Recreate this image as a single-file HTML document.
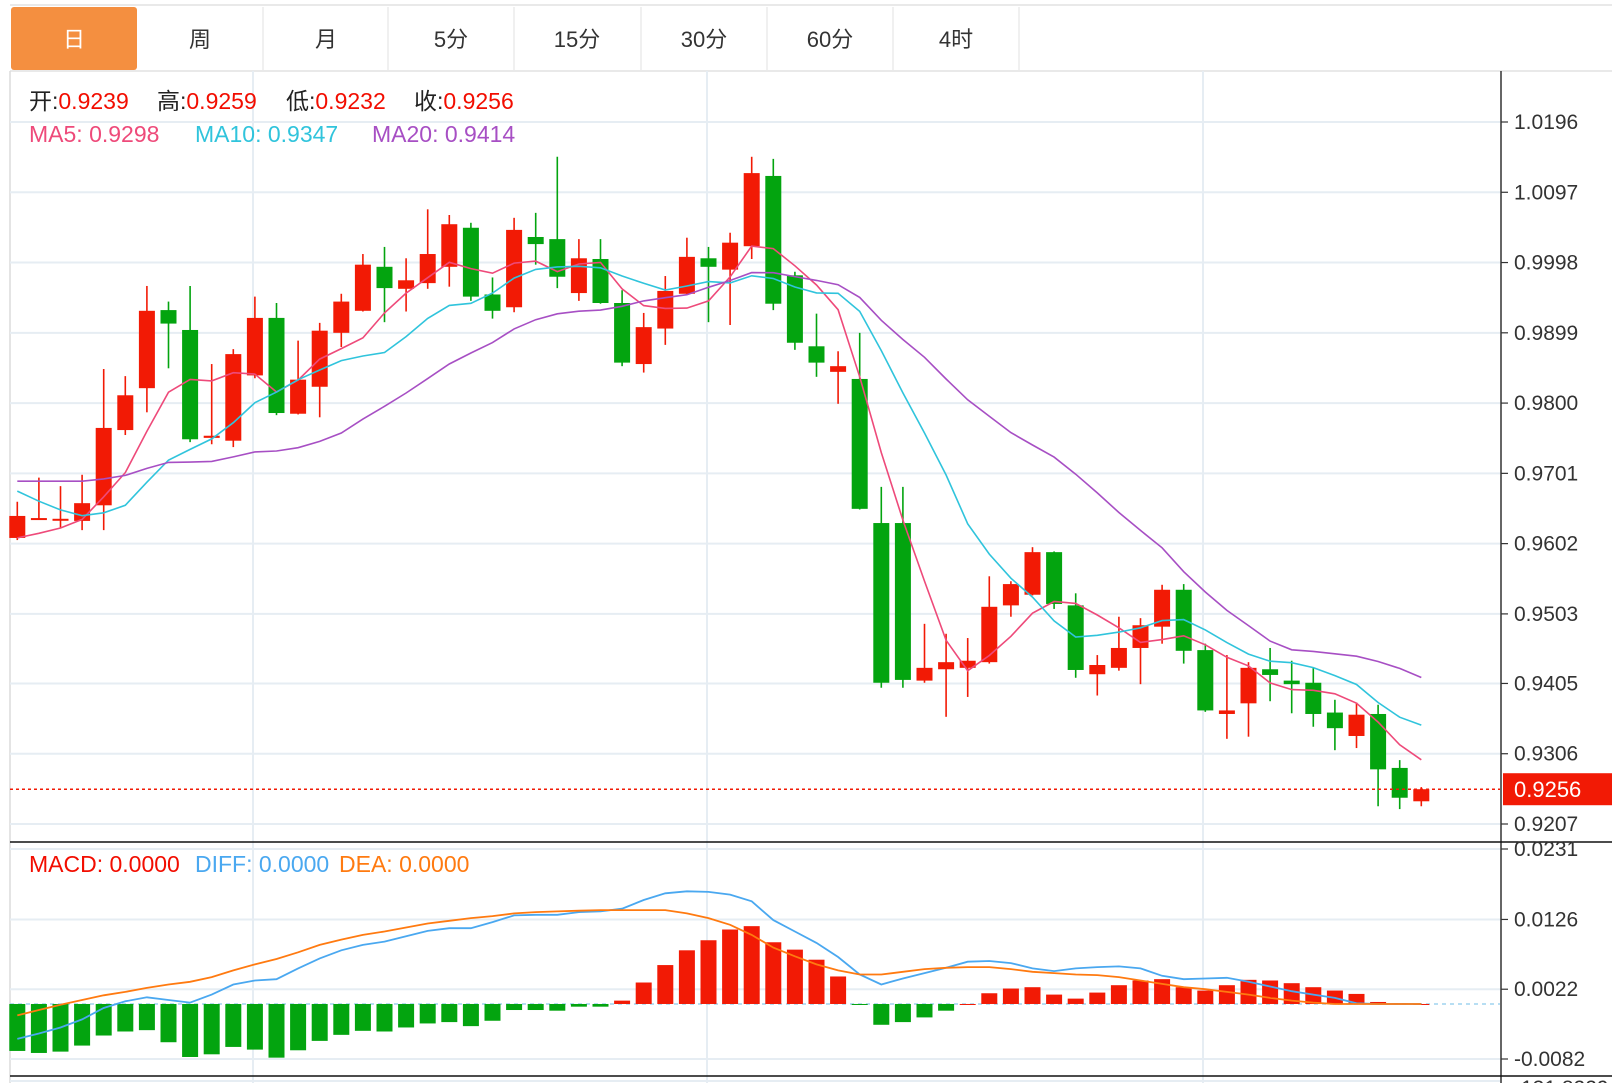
<!DOCTYPE html>
<html><head><meta charset="utf-8"><style>
html,body{margin:0;padding:0;background:#fff;}
svg{display:block;font-family:"Liberation Sans","Noto Sans CJK SC",sans-serif;}
</style></head><body>
<svg id="chart" width="1612" height="1083" viewBox="0 0 1612 1083" xmlns="http://www.w3.org/2000/svg">
<g>
<line x1="10" y1="5" x2="1612" y2="5" stroke="#e2e2e2" stroke-width="1.5"/>
<line x1="10" y1="71" x2="1612" y2="71" stroke="#e2e2e2" stroke-width="1.5"/>
<rect x="11" y="7" width="126" height="63" rx="3" fill="#f48f40"/>
<g font-size="22" text-anchor="middle" fill="#333">
<text x="74" y="47" fill="#fff">日</text>
<text x="200" y="47">周</text>
<text x="326" y="47">月</text>
<text x="451" y="47">5分</text>
<text x="577" y="47">15分</text>
<text x="704" y="47">30分</text>
<text x="830" y="47">60分</text>
<text x="956" y="47">4时</text>
</g>
<g stroke="#e0e0e0" stroke-width="1">
<line x1="263" y1="7" x2="263" y2="70"/><line x1="388" y1="7" x2="388" y2="70"/>
<line x1="514" y1="7" x2="514" y2="70"/><line x1="641" y1="7" x2="641" y2="70"/>
<line x1="767" y1="7" x2="767" y2="70"/><line x1="893" y1="7" x2="893" y2="70"/>
<line x1="1019" y1="7" x2="1019" y2="70"/>
</g>
</g>
<line x1="10" y1="71" x2="10" y2="1083" stroke="#dcdcdc" stroke-width="1.5"/>
<g id="grid"></g>
<g id="marks"></g>
<line x1="1501" y1="71" x2="1501" y2="1083" stroke="#333" stroke-width="1.5"/>
<line x1="10" y1="842" x2="1612" y2="842" stroke="#111" stroke-width="1.5"/>
<line x1="10" y1="1076" x2="1612" y2="1076" stroke="#111" stroke-width="1.5"/>
<line x1="10" y1="1081" x2="1500" y2="1081" stroke="#e6edf3" stroke-width="2"/>
<g id="axis" font-size="21" fill="#333"></g>
<g font-size="23">
<text y="109"><tspan x="29" fill="#222">开:</tspan><tspan fill="#f20d00">0.9239</tspan><tspan x="157" fill="#222">高:</tspan><tspan fill="#f20d00">0.9259</tspan><tspan x="286" fill="#222">低:</tspan><tspan fill="#f20d00">0.9232</tspan><tspan x="414" fill="#222">收:</tspan><tspan fill="#f20d00">0.9256</tspan></text>
<text y="142"><tspan x="29" fill="#ee4a7a">MA5: 0.9298</tspan><tspan x="195" fill="#30c4dc">MA10: 0.9347</tspan><tspan x="372" fill="#a74fc4">MA20: 0.9414</tspan></text>
</g>
<g font-size="23">
<text y="872"><tspan x="29" fill="#f20d00">MACD: 0.0000</tspan><tspan x="195" fill="#4aa8f0">DIFF: 0.0000</tspan><tspan x="339" fill="#ff7a10">DEA: 0.0000</tspan></text>
</g>
</svg>
<script>
const priorCloses=[0.9638,0.9637,0.9659,0.9700,0.9715,0.9730,0.9745,0.9740,0.9735,0.9741,0.9780,0.9760,0.9740,0.9725,0.9705,0.9605,0.9600,0.9598,0.9606];
const opens=[0.9610,0.9637,0.9637,0.9634,0.9656,0.9762,0.9821,0.9931,0.9903,0.9751,0.9747,0.9839,0.9920,0.9785,0.9823,0.9899,0.9930,0.9992,0.9961,0.9969,0.9992,1.0047,0.9953,0.9935,1.0034,1.0031,0.9955,1.0003,0.9941,0.9855,0.9905,0.9954,1.0004,0.9988,1.0021,1.0120,0.9980,0.9880,0.9844,0.9834,0.9631,0.9631,0.9409,0.9425,0.9427,0.9435,0.9515,0.9530,0.9590,0.9515,0.9418,0.9427,0.9455,0.9485,0.9537,0.9452,0.9362,0.9377,0.9425,0.9409,0.9406,0.9364,0.9331,0.9362,0.9286,0.9239];
const highs=[0.9661,0.9695,0.9683,0.9699,0.9848,0.9838,0.9965,0.9943,0.9965,0.9855,0.9876,0.9950,0.9941,0.9888,0.9913,0.9954,1.0010,1.0020,1.0004,1.0073,1.0065,1.0054,0.9977,1.0061,1.0068,1.0147,1.0031,1.0031,0.9959,0.9927,0.9979,1.0033,1.0020,1.0040,1.0147,1.0144,0.9985,0.9926,0.9873,0.9899,0.9682,0.9682,0.9489,0.9475,0.9469,0.9556,0.9549,0.9597,0.9591,0.9532,0.9445,0.9499,0.9497,0.9544,0.9545,0.9461,0.9445,0.9435,0.9455,0.9437,0.9427,0.9382,0.9378,0.9375,0.9297,0.9259];
const lows=[0.9607,0.9636,0.9624,0.9621,0.9621,0.9755,0.9787,0.9849,0.9745,0.9742,0.9738,0.9835,0.9783,0.9784,0.9780,0.9879,0.9929,0.9914,0.9929,0.9961,0.9964,0.9944,0.9919,0.9928,0.9995,0.9962,0.9944,0.9940,0.9852,0.9843,0.9882,0.9953,0.9914,0.9910,1.0003,0.9931,0.9875,0.9837,0.9799,0.9650,0.9399,0.9399,0.9406,0.9358,0.9386,0.9433,0.9499,0.9529,0.9510,0.9413,0.9388,0.9423,0.9404,0.9461,0.9433,0.9365,0.9327,0.9330,0.9380,0.9363,0.9344,0.9311,0.9314,0.9232,0.9228,0.9232];
const closes=[0.9641,0.9638,0.9637,0.9659,0.9765,0.9811,0.9930,0.9912,0.9749,0.9754,0.9869,0.9920,0.9786,0.9833,0.9902,0.9943,0.9995,0.9962,0.9973,1.0010,1.0052,0.9950,0.9930,1.0044,1.0024,0.9978,1.0004,0.9941,0.9857,0.9907,0.9958,1.0006,0.9992,1.0026,1.0124,0.9940,0.9885,0.9857,0.9852,0.9651,0.9406,0.9410,0.9427,0.9435,0.9437,0.9513,0.9545,0.9590,0.9517,0.9424,0.9431,0.9455,0.9487,0.9537,0.9451,0.9367,0.9367,0.9427,0.9417,0.9404,0.9362,0.9342,0.9361,0.9284,0.9244,0.9256];
const priceTicks=[1.0196,1.0097,0.9998,0.9899,0.9800,0.9701,0.9602,0.9503,0.9405,0.9306,0.9207];
const macdHist=[-0.0070,-0.0073,-0.0071,-0.0062,-0.0047,-0.0041,-0.0039,-0.0057,-0.0079,-0.0075,-0.0064,-0.0068,-0.0080,-0.0069,-0.0055,-0.0046,-0.0040,-0.0041,-0.0035,-0.0029,-0.0027,-0.0033,-0.0025,-0.0009,-0.0009,-0.0010,-0.0004,-0.0004,0.0005,0.0032,0.0058,0.0080,0.0095,0.0111,0.0116,0.0092,0.0081,0.0066,0.0041,-0.0001,-0.0031,-0.0027,-0.0020,-0.0010,0.0000,0.0016,0.0023,0.0025,0.0014,0.0008,0.0017,0.0028,0.0035,0.0037,0.0025,0.0020,0.0028,0.0036,0.0035,0.0031,0.0025,0.0020,0.0015,0.0003,0.0001,0.0000];
const diffLine=[-0.0052,-0.0044,-0.0035,-0.0023,-0.0006,0.0004,0.0010,0.0006,0.0002,0.0014,0.0029,0.0035,0.0037,0.0053,0.0068,0.0080,0.0088,0.0093,0.0101,0.0109,0.0113,0.0113,0.0122,0.0132,0.0133,0.0133,0.0137,0.0138,0.0142,0.0155,0.0165,0.0168,0.0167,0.0163,0.0153,0.0125,0.0108,0.0091,0.0070,0.0044,0.0029,0.0038,0.0046,0.0054,0.0063,0.0064,0.0061,0.0053,0.0049,0.0053,0.0055,0.0056,0.0053,0.0042,0.0037,0.0038,0.0039,0.0033,0.0026,0.0019,0.0014,0.0009,0.0001,0.0000,0.0000,0.0000];
const deaLine=[-0.0017,-0.0009,-0.0001,0.0006,0.0013,0.0018,0.0024,0.0029,0.0033,0.0040,0.0050,0.0059,0.0067,0.0077,0.0088,0.0096,0.0103,0.0108,0.0114,0.0120,0.0124,0.0128,0.0131,0.0135,0.0137,0.0138,0.0139,0.0140,0.0140,0.0140,0.0140,0.0135,0.0128,0.0118,0.0103,0.0084,0.0071,0.0059,0.0050,0.0044,0.0044,0.0048,0.0052,0.0054,0.0055,0.0055,0.0052,0.0048,0.0046,0.0044,0.0043,0.0040,0.0035,0.0030,0.0025,0.0022,0.0018,0.0014,0.0009,0.0005,0.0002,0.0000,0.0000,0.0000,0.0000,0.0000];
const macdTicks=[0.0231,0.0126,0.0022,-0.0082];
const lastPrice=0.9256;

const NS='http://www.w3.org/2000/svg';
const X0=17.3, DX=21.6, LEFT=10, RIGHT=1500;
const xAt=i=>X0+DX*i;
const yP=p=>122+(1.0196-p)*(702/0.0989);
const yM=v=>849+(0.0231-v)*(210/0.0313);
function mk(tag,attrs,parent){const e=document.createElementNS(NS,tag);for(const k in attrs)e.setAttribute(k,attrs[k]);parent.appendChild(e);return e;}
const grid=document.getElementById('grid'), marks=document.getElementById('marks'), axis=document.getElementById('axis');

priceTicks.forEach(t=>{const y=yP(t);
 const l=mk('line',{x1:LEFT,y1:y,x2:RIGHT,y2:y,stroke:'#e6edf3','stroke-width':2},grid);
 
 
 mk('line',{x1:1501,y1:y,x2:1508,y2:y,stroke:'#333','stroke-width':1.2},axis);
 const tx=mk('text',{x:1514,y:y+7},axis); tx.textContent=t.toFixed(4);
 
 
});
macdTicks.forEach(t=>{const y=yM(t);
 const l=mk('line',{x1:LEFT,y1:y,x2:RIGHT,y2:y,stroke:'#e6edf3','stroke-width':2},grid);
 
 
 mk('line',{x1:1501,y1:y,x2:1508,y2:y,stroke:'#333','stroke-width':1.2},axis);
 const tx=mk('text',{x:1514,y:y+7},axis); tx.textContent=t.toFixed(4);
 
 
});
[253,707,1203].forEach(x=>{const l=mk('line',{x1:x,y1:71,x2:x,y2:1083,stroke:'#e6edf3','stroke-width':2},grid);
 
 });
const cut=mk('text',{x:1514,y:1095},axis); cut.textContent='-131.8229';



const RED='#f21a05', GREEN='#03a40f';
closes.forEach((c,i)=>{const o=opens[i],up=c>=o,col=up?RED:GREEN,x=xAt(i);
 const g=mk('g',{},marks);
 
 
 mk('line',{x1:x,y1:yP(highs[i]),x2:x,y2:yP(lows[i]),stroke:col,'stroke-width':1.6},g);
 const top=yP(Math.max(o,c)),bot=yP(Math.min(o,c));
 mk('rect',{x:x-8,y:top,width:16,height:Math.max(bot-top,2),fill:col},g);
});

const all=priorCloses.concat(closes);
function ma(n){return closes.map((_,i)=>{const j=i+priorCloses.length;let s=0;for(let k=j-n+1;k<=j;k++)s+=all[k];return s/n;});}
[[5,'#ee4a7a','ma5-line'],[10,'#30c4dc','ma10-line'],[20,'#a74fc4','ma20-line']].forEach(([n,col,name])=>{
 const pts=ma(n).map((v,i)=>xAt(i).toFixed(1)+','+yP(v).toFixed(1)).join(' ');
 const pl=mk('polyline',{points:pts,fill:'none',stroke:col,'stroke-width':1.6},marks);
 
 
});

const ly=yP(lastPrice);
const dl=mk('line',{x1:LEFT,y1:ly,x2:RIGHT,y2:ly,stroke:'#f21a05','stroke-width':1.5,'stroke-dasharray':'3,3'},marks);


const tag=mk('rect',{x:1503,y:ly-16,width:109,height:32,fill:'#f21a05'},axis);


const tt=mk('text',{x:1514,y:ly+8,fill:'#fff','font-size':22},axis); tt.textContent=lastPrice.toFixed(4);



const y0=yM(0);
const zl=mk('line',{x1:LEFT,y1:y0,x2:RIGHT,y2:y0,stroke:'#9fd3ef','stroke-width':1.5,'stroke-dasharray':'4,4'},marks);


macdHist.forEach((v,i)=>{const y=yM(v);
 const r=mk('rect',{x:xAt(i)-8,y:Math.min(y,y0),width:16,height:Math.max(Math.abs(y-y0),1),fill:v>=0?RED:GREEN},marks);
 
 
});
[[diffLine,'#4aa8f0','diff-line'],[deaLine,'#ff7a10','dea-line']].forEach(([arr,col,name])=>{
 const pts=arr.map((v,i)=>xAt(i).toFixed(1)+','+yM(v).toFixed(1)).join(' ');
 const pl=mk('polyline',{points:pts,fill:'none',stroke:col,'stroke-width':1.8},marks);
 
 
});
</script>
</body></html>
